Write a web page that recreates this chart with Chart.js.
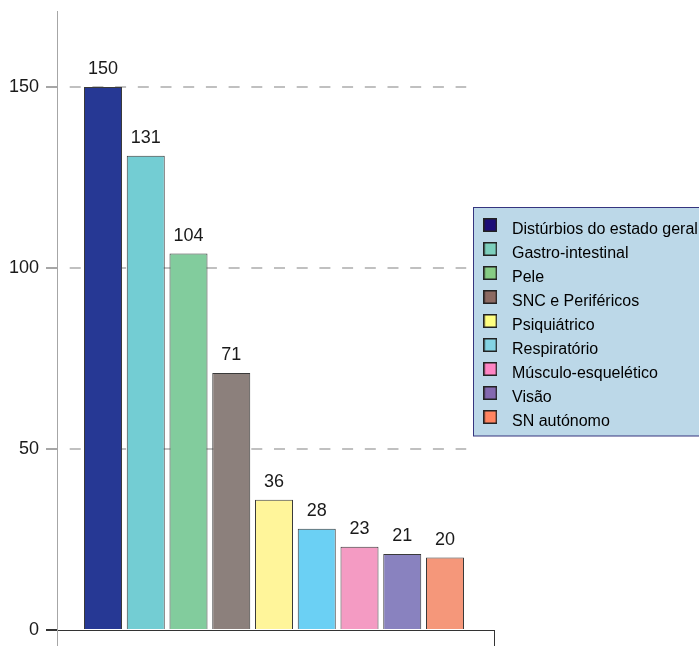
<!DOCTYPE html>
<html><head><meta charset="utf-8">
<script src="https://cdn.jsdelivr.net/npm/chart.js@4.4.1/dist/chart.umd.min.js"></script>
<style>html,body{margin:0;padding:0;background:#fff;overflow:hidden}#wrap{width:699px;height:646px;position:relative}</style>
</head><body><div id="wrap"><canvas id="c"></canvas></div>
<script>
const categories = ['Distúrbios do estado geral','Gastro-intestinal','Pele','SNC e Periféricos','Psiquiátrico','Respiratório','Músculo-esquelético','Visão','SN autónomo'];
const values = [150,131,104,71,36,28,23,21,20];
const barColors = ['#263894','#73cdd3','#82cc9d','#8c807c','#fff59a','#6bd0f4','#f49bc3','#8982bf','#f5977a'];
const legendColors = ['#1c0c78','#7ccfbc','#86cc84','#8c6a62','#ffff80','#84d4e4','#ff84c4','#8468b0','#ff8460'];
const yTicks = [0,50,100,150];

const FONT = "'Liberation Sans', Arial, sans-serif";
Chart.defaults.font.family = FONT;
Chart.defaults.color = '#1a1a1a';

function swatch(color){
  const c = document.createElement('canvas'); c.width = 14; c.height = 24;
  const g = c.getContext('2d');
  g.fillStyle = color; g.fillRect(0,0,14,14);
  g.strokeStyle = '#222'; g.lineWidth = 1.5; g.strokeRect(0.75,0.75,12.5,12.5);
  return c;
}
const swatches = legendColors.map(swatch);

function drawLegendBg(chart){
  const ctx = chart.ctx; ctx.save();
  ctx.fillStyle = '#bcd8e8'; ctx.fillRect(473.5,207.5,240,228.5);
  ctx.strokeStyle = '#35357f'; ctx.lineWidth = 1; ctx.strokeRect(473.5,207.5,240,228.5);
  ctx.restore();
}

const layoutTweaks = {
  id: 'layoutTweaks',
  afterLayout(chart){
    const L = chart.legend;
    if (L) {
      const w = L.width;
      L.left = 468.6; L.top = 214; L.right = L.left + w; L.bottom = chart.height;
      if (!L._bgPatched) {
        const orig = L.draw;
        L.draw = function(...a){ drawLegendBg(chart); return orig.apply(this, a); };
        L._bgPatched = true;
      }
    }
    const y = chart.scales.y, x = chart.scales.x;
    if (y && !y._clipPatched) {
      const origGrid = y.drawGrid;
      y.drawGrid = function(...a){
        const ctx = this.ctx;
        const right = x.getPixelForValue(values.length - 0.5);
        ctx.save(); ctx.beginPath(); ctx.rect(0, 0, right, chart.height); ctx.clip();
        const r = origGrid.apply(this, a);
        ctx.restore();
        return r;
      };
      y._clipPatched = true;
    }
  }
};

const valueLabels = {
  id: 'valueLabels',
  afterDatasetsDraw(chart){
    const ctx = chart.ctx; const meta = chart.getDatasetMeta(0);
    ctx.save(); ctx.font = '18px ' + FONT; ctx.fillStyle = '#1a1a1a';
    ctx.textAlign = 'center'; ctx.textBaseline = 'alphabetic';
    meta.data.forEach((bar,i) => ctx.fillText(String(values[i]), bar.x, bar.y - 13));
    ctx.restore();
  }
};

new Chart(document.getElementById('c'), {
  type: 'bar',
  data: {
    datasets: [{
      data: values.map((v,i) => ({x: i, y: v})),
      backgroundColor: barColors,
      borderColor: '#3a3a3a',
      borderWidth: 1,
      barPercentage: 0.889,
      categoryPercentage: 1
    }]
  },
  options: {
    responsive: true, maintainAspectRatio: false, animation: false,
    layout: { padding: { left: 9, top: 11, right: 205, bottom: 0 } },
    plugins: {
      tooltip: { enabled: false },
      legend: {
        position: 'chartArea', align: 'start',
        labels: {
          usePointStyle: true, pointStyleWidth: 27.4, boxHeight: 14, padding: 8,
          font: { size: 16 }, color: '#1a1a1a',
          generateLabels: () => categories.map((c,i) => ({
            text: c, pointStyle: swatches[i], fillStyle: legendColors[i], strokeStyle: '#222', lineWidth: 1, hidden: false, datasetIndex: 0, index: i
          }))
        }
      }
    },
    scales: {
      x: {
        type: 'linear', min: -1.076, max: 9.146, offset: false,
        afterBuildTicks: ax => { ax.ticks = [{value: ax.min}, {value: ax.max}]; },
        afterFit: ax => { ax.height = 16; ax.paddingLeft = 0; ax.paddingRight = 0; },
        ticks: { display: false },
        grid: { offset: false, drawOnChartArea: false, drawTicks: true, tickLength: 16,
                color: c => c.index === 0 ? '#a6a6a6' : '#333', lineWidth: 1 },
        border: { display: true, color: '#333', width: 1 }
      },
      y: {
        min: 0, max: 171,
        afterBuildTicks: ax => { ax.ticks = yTicks.map(v => ({value: v})); },
        afterFit: ax => { ax.width = 48; ax.paddingTop = 0; ax.paddingBottom = 0; },
        ticks: { font: { size: 18 }, color: '#1a1a1a', padding: 7 },
        grid: { drawOnChartArea: true, drawTicks: true, tickLength: 11,
                color: c => (c.tick && c.tick.value === 0) ? 'rgba(0,0,0,0)' : '#c0c0c0',
                tickColor: c => (c.tick && c.tick.value === 0) ? '#333' : '#a6a6a6',
                lineWidth: 2 },
        border: { color: '#a6a6a6', width: 1, dash: [11, 11.7], dashOffset: 11 }
      }
    }
  },
  plugins: [layoutTweaks, valueLabels]
});
</script></body></html>
